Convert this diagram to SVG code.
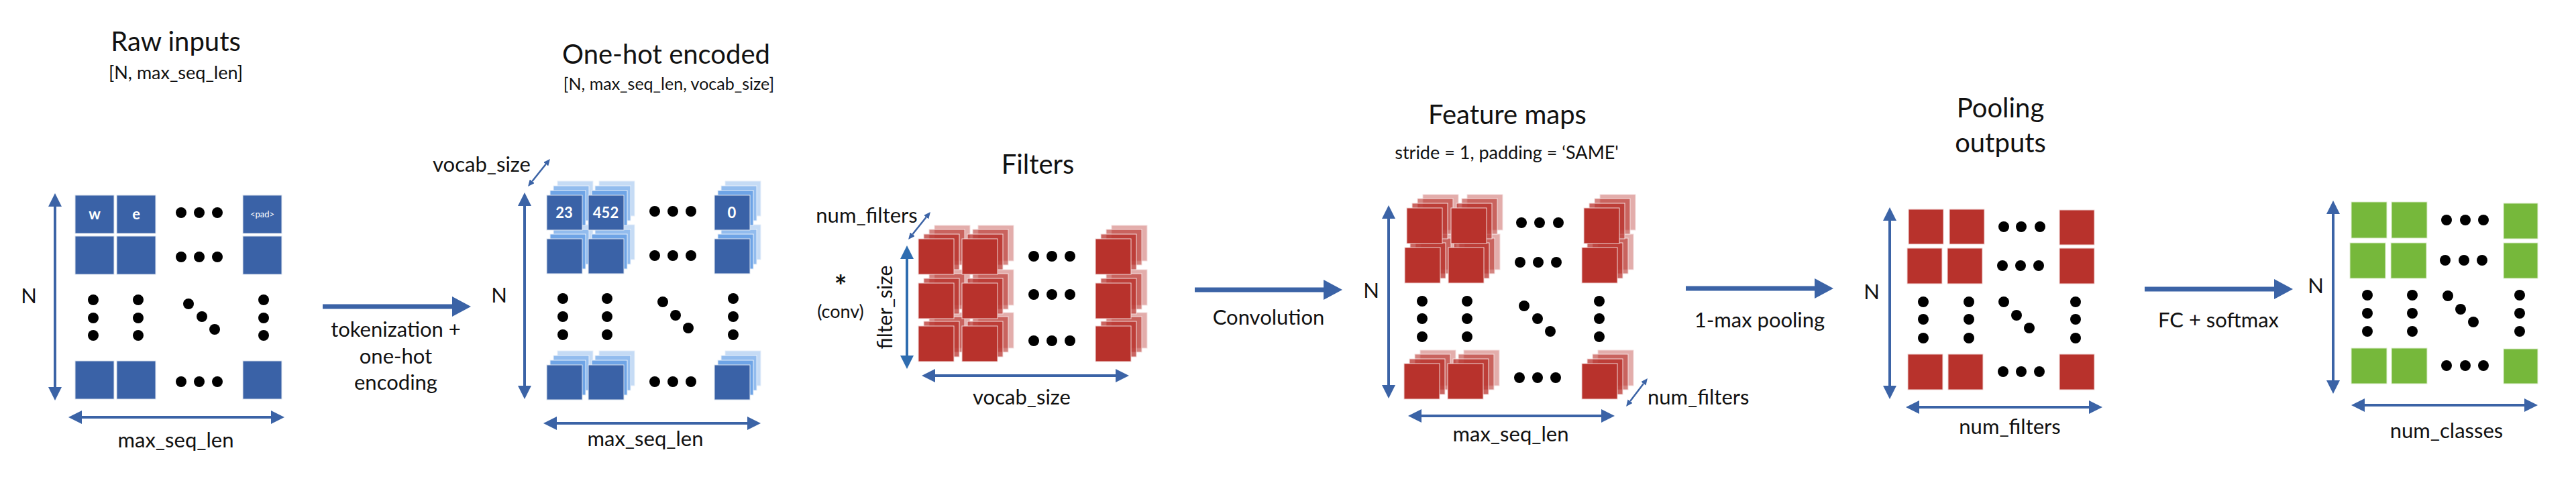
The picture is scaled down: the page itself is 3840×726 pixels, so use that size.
<svg xmlns="http://www.w3.org/2000/svg" xmlns:xlink="http://www.w3.org/1999/xlink" width="3840" height="726" viewBox="0 0 3840 726">
<style>
text{font-family:Lato,"Noto Sans","Liberation Sans",sans-serif;fill:#111}
.title{font-size:40px;text-anchor:middle}
.sub{font-size:25px;text-anchor:middle}
.lbl{font-size:31px;text-anchor:middle}
.lbls{font-size:31px}
.wt{font-size:22px;font-weight:700;fill:#fff;text-anchor:middle}
.pad{font-size:13px;fill:#fff;text-anchor:middle}
.blue{fill:#3a62a7;stroke:#dde4ee;stroke-width:1}
.red{fill:#b8322c;stroke:#f0d6d5;stroke-width:1}
.green{fill:#76b83b;stroke:#dfeed2;stroke-width:1}
.dot{fill:#000}
.dim{stroke:#3b63a6;stroke-width:4;fill:none;marker-start:url(#hd);marker-end:url(#hd)}
.dimf{stroke:#2f6db0;stroke-width:4;fill:none;marker-start:url(#hdf);marker-end:url(#hdf)}
.proc{stroke:#3b63a6;stroke-width:7;fill:none;marker-end:url(#bh)}
.diag{stroke:#3b63a6;stroke-width:2.5;fill:none;marker-start:url(#sh);marker-end:url(#sh)}
</style>
<defs>
<marker id="hd" viewBox="0 0 20 20" markerWidth="20" markerHeight="20" refX="0" refY="10" orient="auto-start-reverse" markerUnits="userSpaceOnUse"><path d="M0,0L20,10L0,20z" fill="#3b63a6"/></marker>
<marker id="hdf" viewBox="0 0 20 20" markerWidth="20" markerHeight="20" refX="0" refY="10" orient="auto-start-reverse" markerUnits="userSpaceOnUse"><path d="M0,0L20,10L0,20z" fill="#2f6db0"/></marker>
<marker id="bh" viewBox="0 0 28 30" markerWidth="28" markerHeight="30" refX="0" refY="15" orient="auto" markerUnits="userSpaceOnUse"><path d="M0,0L28,15L0,30z" fill="#3b63a6"/></marker>
<marker id="sh" viewBox="0 0 10 9" markerWidth="10" markerHeight="9" refX="0" refY="4.5" orient="auto-start-reverse" markerUnits="userSpaceOnUse"><path d="M0,0L10,4.5L0,9z" fill="#3b63a6"/></marker>
<g id="bstack">
<rect x="16" y="-21" width="53" height="52" fill="#c5dbf5" stroke="#e8f0fa" stroke-width="1"/>
<rect x="10" y="-14" width="53" height="52" fill="#92bcee" stroke="#e8f0fa" stroke-width="1"/>
<rect x="5" y="-7" width="53" height="52" fill="#6ea4e6" stroke="#e8f0fa" stroke-width="1"/>
<rect x="0" y="0" width="53" height="52" class="blue"/>
</g>
<g id="rstack">
<rect x="24" y="-20" width="53" height="53" fill="#b8322c" fill-opacity="0.4" stroke="#f3dede" stroke-width="1"/>
<rect x="16" y="-14" width="53" height="53" fill="#b8322c" fill-opacity="0.6" stroke="#f3dede" stroke-width="1"/>
<rect x="8" y="-7" width="53" height="53" fill="#b8322c" fill-opacity="0.75" stroke="#f3dede" stroke-width="1"/>
<rect x="0" y="0" width="53" height="53" class="red"/>
</g>
<circle id="d" r="8" class="dot"/>
</defs>

<g id="connectors">
<line x1="481" y1="457" x2="674" y2="457" class="proc"/>
<line x1="1781" y1="432" x2="1973" y2="432" class="proc"/>
<line x1="2513" y1="430" x2="2705" y2="430" class="proc"/>
<line x1="3197" y1="431" x2="3390" y2="431" class="proc"/>
<text class="lbl" x="590" y="502">tokenization +</text>
<text class="lbl" x="590" y="542">one-hot</text>
<text class="lbl" x="590" y="581">encoding</text>
<text class="lbl" x="1891" y="484">Convolution</text>
<text class="lbl" x="2623" y="488">1-max pooling</text>
<text class="lbl" x="3307" y="488">FC + softmax</text>
</g>

<g id="raw-inputs">
<text class="title" x="262" y="76">Raw inputs</text>
<text class="sub" x="262" y="118" style="font-size:27px">[N, max_seq_len]</text>
<rect x="112" y="291" width="58" height="57" class="blue"/>
<rect x="174" y="291" width="58" height="57" class="blue"/>
<rect x="362" y="291" width="58" height="57" class="blue"/>
<rect x="112" y="352" width="58" height="57" class="blue"/>
<rect x="174" y="352" width="58" height="57" class="blue"/>
<rect x="362" y="352" width="58" height="57" class="blue"/>
<rect x="112" y="538" width="58" height="57" class="blue"/>
<rect x="174" y="538" width="58" height="57" class="blue"/>
<rect x="362" y="538" width="58" height="57" class="blue"/>
<text class="wt" x="141" y="327">w</text>
<text class="wt" x="203" y="327">e</text>
<text class="pad" x="391" y="324">&lt;pad&gt;</text>
<use href="#d" x="270" y="317"/><use href="#d" x="297" y="317"/><use href="#d" x="324" y="317"/>
<use href="#d" x="270" y="383"/><use href="#d" x="297" y="383"/><use href="#d" x="324" y="383"/>
<use href="#d" x="270" y="569"/><use href="#d" x="297" y="569"/><use href="#d" x="324" y="569"/>
<use href="#d" x="139" y="447"/><use href="#d" x="139" y="474"/><use href="#d" x="139" y="500"/>
<use href="#d" x="206" y="447"/><use href="#d" x="206" y="474"/><use href="#d" x="206" y="500"/>
<use href="#d" x="393" y="447"/><use href="#d" x="393" y="474"/><use href="#d" x="393" y="500"/>
<use href="#d" x="281" y="453"/><use href="#d" x="301" y="472"/><use href="#d" x="320" y="491"/>
<line x1="82" y1="308" x2="82" y2="577" class="dim"/>
<text class="lbl" x="43" y="452">N</text>
<line x1="122" y1="622" x2="404" y2="622" class="dim"/>
<text class="lbl" x="262" y="667">max_seq_len</text>
</g>

<g id="one-hot-encoded">
<text class="title" x="993" y="95">One-hot encoded</text>
<text class="sub" x="997" y="134">[N, max_seq_len, vocab_size]</text>
<text class="lbl" x="718" y="256">vocab_size</text>
<line x1="793.3" y1="270.2" x2="813.7" y2="244.8" class="diag"/>
<use href="#bstack" x="815" y="544"/><use href="#bstack" x="877" y="544"/><use href="#bstack" x="1065" y="544"/>
<use href="#bstack" x="815" y="356"/><use href="#bstack" x="877" y="356"/><use href="#bstack" x="1065" y="356"/>
<use href="#bstack" x="815" y="291"/><use href="#bstack" x="877" y="291"/><use href="#bstack" x="1065" y="291"/>
<text class="wt" x="841" y="325">23</text>
<text class="wt" x="903" y="325">452</text>
<text class="wt" x="1091" y="325">0</text>
<use href="#d" x="976" y="315"/><use href="#d" x="1003" y="315"/><use href="#d" x="1030" y="315"/>
<use href="#d" x="976" y="381"/><use href="#d" x="1003" y="381"/><use href="#d" x="1030" y="381"/>
<use href="#d" x="976" y="569"/><use href="#d" x="1003" y="569"/><use href="#d" x="1030" y="569"/>
<use href="#d" x="839" y="445"/><use href="#d" x="839" y="472"/><use href="#d" x="839" y="499"/>
<use href="#d" x="905" y="445"/><use href="#d" x="905" y="472"/><use href="#d" x="905" y="499"/>
<use href="#d" x="1093" y="445"/><use href="#d" x="1093" y="472"/><use href="#d" x="1093" y="499"/>
<use href="#d" x="988" y="450"/><use href="#d" x="1007" y="470"/><use href="#d" x="1026" y="489"/>
<line x1="782" y1="307" x2="782" y2="575" class="dim"/>
<text class="lbl" x="744" y="451">N</text>
<line x1="830" y1="631" x2="1114" y2="631" class="dim"/>
<text class="lbl" x="962" y="665">max_seq_len</text>
</g>

<g id="filters">
<text class="title" x="1547" y="259">Filters</text>
<text class="lbl" x="1292" y="332">num_filters</text>
<line x1="1360.3" y1="349.2" x2="1380.7" y2="323.8" class="diag"/>
<text x="1253" y="442" style="font-size:44px;font-weight:700;text-anchor:middle">*</text>
<text x="1253" y="474" style="font-size:27px;text-anchor:middle">(conv)</text>
<text class="lbl" style="font-size:30px" transform="translate(1330,458) rotate(-90)" x="0" y="0">filter_size</text>
<use href="#rstack" x="1369" y="486"/><use href="#rstack" x="1434" y="486"/><use href="#rstack" x="1633" y="486"/>
<use href="#rstack" x="1369" y="422"/><use href="#rstack" x="1434" y="422"/><use href="#rstack" x="1633" y="422"/>
<use href="#rstack" x="1369" y="356"/><use href="#rstack" x="1434" y="356"/><use href="#rstack" x="1633" y="356"/>
<use href="#d" x="1541" y="382"/><use href="#d" x="1568" y="382"/><use href="#d" x="1595" y="382"/>
<use href="#d" x="1541" y="439"/><use href="#d" x="1568" y="439"/><use href="#d" x="1595" y="439"/>
<use href="#d" x="1541" y="508"/><use href="#d" x="1568" y="508"/><use href="#d" x="1595" y="508"/>
<line x1="1352" y1="386" x2="1352" y2="530" class="dimf"/>
<line x1="1394" y1="560" x2="1663" y2="560" class="dim"/>
<text class="lbl" x="1523" y="603">vocab_size</text>
</g>

<g id="feature-maps">
<text class="title" x="2247" y="185">Feature maps</text>
<text class="sub" x="2246" y="237" style="font-size:27px">stride = 1, padding = ‘SAME'</text>
<use href="#rstack" x="2093" y="542"/><use href="#rstack" x="2158" y="542"/><use href="#rstack" x="2358" y="542"/>
<use href="#rstack" x="2094" y="369"/><use href="#rstack" x="2159" y="369"/><use href="#rstack" x="2358" y="369"/>
<use href="#rstack" x="2097" y="310"/><use href="#rstack" x="2163" y="310"/><use href="#rstack" x="2361" y="310"/>
<use href="#d" x="2268" y="332"/><use href="#d" x="2295" y="332"/><use href="#d" x="2323" y="332"/>
<use href="#d" x="2266" y="391"/><use href="#d" x="2293" y="391"/><use href="#d" x="2320" y="391"/>
<use href="#d" x="2265" y="563"/><use href="#d" x="2292" y="563"/><use href="#d" x="2319" y="563"/>
<use href="#d" x="2120" y="449"/><use href="#d" x="2120" y="475"/><use href="#d" x="2120" y="502"/>
<use href="#d" x="2187" y="449"/><use href="#d" x="2187" y="475"/><use href="#d" x="2187" y="502"/>
<use href="#d" x="2384" y="449"/><use href="#d" x="2384" y="475"/><use href="#d" x="2384" y="502"/>
<use href="#d" x="2272" y="456"/><use href="#d" x="2292" y="475"/><use href="#d" x="2311" y="494"/>
<line x1="2070" y1="326" x2="2070" y2="574" class="dim"/>
<text class="lbl" x="2044" y="444">N</text>
<line x1="2119" y1="620" x2="2387" y2="620" class="dim"/>
<text class="lbl" x="2252" y="658">max_seq_len</text>
<line x1="2430.1" y1="598.1" x2="2449.9" y2="571.9" class="diag"/>
<text class="lbls" x="2456" y="603">num_filters</text>
</g>

<g id="pooling-outputs">
<text class="title" x="2982" y="175">Pooling</text>
<text class="title" x="2982" y="227">outputs</text>
<rect x="2845" y="312" width="52" height="52" class="red"/>
<rect x="2906" y="312" width="52" height="52" class="red"/>
<rect x="3070" y="313" width="52" height="52" class="red"/>
<rect x="2843" y="370" width="52" height="53" class="red"/>
<rect x="2903" y="370" width="52" height="53" class="red"/>
<rect x="3070" y="370" width="52" height="53" class="red"/>
<rect x="2844" y="528" width="52" height="53" class="red"/>
<rect x="2904" y="528" width="52" height="53" class="red"/>
<rect x="3070" y="528" width="52" height="53" class="red"/>
<use href="#d" x="2987" y="338"/><use href="#d" x="3013" y="338"/><use href="#d" x="3041" y="338"/>
<use href="#d" x="2985" y="396"/><use href="#d" x="3012" y="396"/><use href="#d" x="3039" y="396"/>
<use href="#d" x="2986" y="554"/><use href="#d" x="3013" y="554"/><use href="#d" x="3040" y="554"/>
<use href="#d" x="2867" y="450"/><use href="#d" x="2867" y="476"/><use href="#d" x="2867" y="504"/>
<use href="#d" x="2935" y="450"/><use href="#d" x="2935" y="476"/><use href="#d" x="2935" y="504"/>
<use href="#d" x="3094" y="450"/><use href="#d" x="3094" y="476"/><use href="#d" x="3094" y="504"/>
<use href="#d" x="2987" y="450"/><use href="#d" x="3006" y="470"/><use href="#d" x="3025" y="489"/>
<line x1="2817" y1="329" x2="2817" y2="575" class="dim"/>
<text class="lbl" x="2790" y="446">N</text>
<line x1="2861" y1="607" x2="3114" y2="607" class="dim"/>
<text class="lbl" x="2996" y="647">num_filters</text>
</g>

<g id="outputs">
<rect x="3505" y="301" width="53" height="54" class="green"/>
<rect x="3565" y="301" width="53" height="54" class="green"/>
<rect x="3732" y="303" width="51" height="53" class="green"/>
<rect x="3503" y="362" width="53" height="53" class="green"/>
<rect x="3564" y="362" width="53" height="53" class="green"/>
<rect x="3732" y="362" width="51" height="53" class="green"/>
<rect x="3505" y="519" width="53" height="53" class="green"/>
<rect x="3565" y="519" width="53" height="53" class="green"/>
<rect x="3732" y="520" width="51" height="52" class="green"/>
<use href="#d" x="3647" y="328"/><use href="#d" x="3675" y="328"/><use href="#d" x="3702" y="328"/>
<use href="#d" x="3645" y="388"/><use href="#d" x="3673" y="388"/><use href="#d" x="3700" y="388"/>
<use href="#d" x="3647" y="545"/><use href="#d" x="3675" y="545"/><use href="#d" x="3702" y="545"/>
<use href="#d" x="3529" y="440"/><use href="#d" x="3529" y="467"/><use href="#d" x="3529" y="494"/>
<use href="#d" x="3596" y="440"/><use href="#d" x="3596" y="467"/><use href="#d" x="3596" y="494"/>
<use href="#d" x="3756" y="440"/><use href="#d" x="3756" y="467"/><use href="#d" x="3756" y="494"/>
<use href="#d" x="3649" y="441"/><use href="#d" x="3668" y="461"/><use href="#d" x="3687" y="480"/>
<line x1="3478" y1="319" x2="3478" y2="567" class="dim"/>
<text class="lbl" x="3452" y="437">N</text>
<line x1="3525" y1="604" x2="3763" y2="604" class="dim"/>
<text class="lbl" x="3647" y="653">num_classes</text>
</g>
</svg>
